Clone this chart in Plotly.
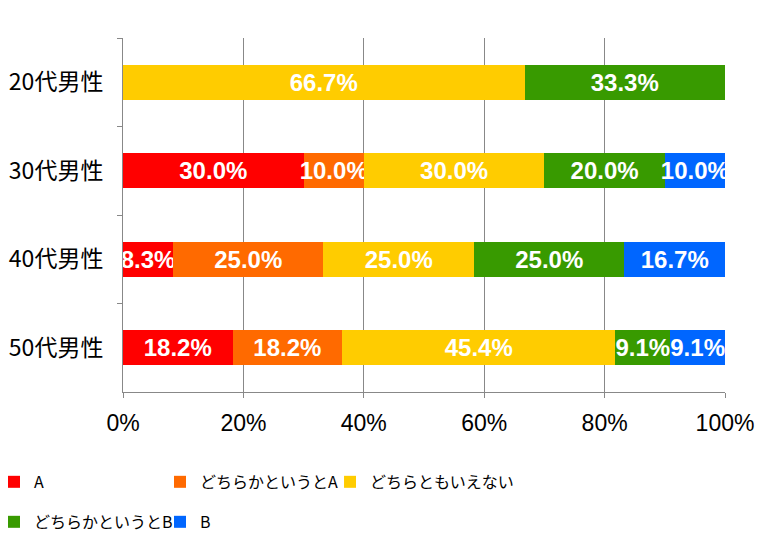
import plotly.graph_objects as go

categories = ["20代男性", "30代男性", "40代男性", "50代男性"]
series_names = ["A", "どちらかというとA", "どちらともいえない", "どちらかというとB", "B"]
vals_A = [0, 30.0, 8.3, 18.2]
vals_lA = [0, 10.0, 25.0, 18.2]
vals_N = [66.7, 30.0, 25.0, 45.4]
vals_lB = [33.3, 20.0, 25.0, 9.1]
vals_B = [0, 10.0, 16.7, 9.1]
colors = ["#FF0000", "#FF6A00", "#FFCC00", "#389A00", "#0066FF"]
x_ticks = [0, 20, 40, 60, 80, 100]

all_vals = [vals_A, vals_lA, vals_N, vals_lB, vals_B]
legend_ids = ["legend", "legend2", "legend3", "legend4", "legend5"]
legend_pos = [(-0.2143, -0.254), (0.0615, -0.254), (0.3439, -0.254),
              (-0.2143, -0.367), (0.0615, -0.367)]

label_font = dict(family="Liberation Sans, Arial, sans-serif", size=24,
                  color="white", weight="bold")

fig = go.Figure()
for name, vals, col, lg in zip(series_names, all_vals, colors, legend_ids):
    fig.add_trace(go.Bar(
        y=categories, x=vals, name=name, orientation="h",
        marker=dict(color=col, line=dict(width=0)),
        text=[("%.1f%%" % v) if v > 0 else "" for v in vals],
        textposition="inside", insidetextanchor="middle",
        constraintext="none", textangle=0,
        textfont=label_font, cliponaxis=False,
        legend=lg, hoverinfo="skip", showlegend=True,
    ))

cjk = "Noto Sans CJK JP, sans-serif"
layout_legends = {}
for lg, (lx, ly) in zip(legend_ids, legend_pos):
    layout_legends[lg] = dict(orientation="h", x=lx, xanchor="left", y=ly, yanchor="middle",
                              font=dict(size=16, family=cjk), itemwidth=30,
                              bgcolor="rgba(0,0,0,0)")

fig.update_layout(
    width=766, height=547,
    showlegend=True,
    margin=dict(l=123, r=41, t=38, b=155, autoexpand=False),
    barmode="stack", bargap=0.6,
    plot_bgcolor="white", paper_bgcolor="white",
    font=dict(family=cjk, color="black"),
    xaxis=dict(range=[0, 100], tickvals=x_ticks, ticktext=[f"{t}%" for t in x_ticks],
               showgrid=True, gridcolor="#888888", gridwidth=1,
               showline=True, linecolor="#888888", linewidth=1,
               ticks="outside", ticklen=5, tickcolor="#888888",
               tickfont=dict(size=23, family="Liberation Sans, Arial, sans-serif"),
               ticklabelstandoff=5, zeroline=False, fixedrange=True),
    yaxis=dict(autorange="reversed", showline=True, linecolor="#888888", linewidth=1,
               ticks="outside", ticklen=5, tickcolor="#888888", tickson="boundaries",
               showgrid=False, tickfont=dict(size=23, family=cjk), ticklabelstandoff=14),
    **layout_legends,
)

fig.write_html("out.html")
